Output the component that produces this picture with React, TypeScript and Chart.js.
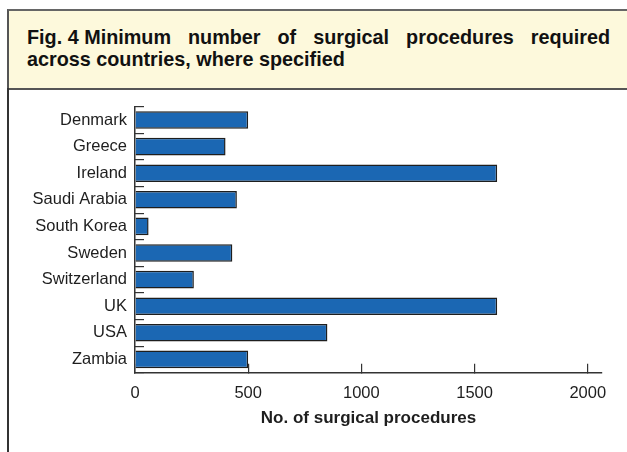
import React, { useEffect, useRef } from "react";
import { Chart, registerables } from "chart.js";

Chart.register(...registerables);

const countries = [
  "Denmark",
  "Greece",
  "Ireland",
  "Saudi Arabia",
  "South Korea",
  "Sweden",
  "Switzerland",
  "UK",
  "USA",
  "Zambia",
];
const minProcedures = [500, 400, 1600, 450, 60, 430, 260, 1600, 850, 500];
const xTicks = [0, 500, 1000, 1500, 2000];
const xMax = 2063;
const titleLead = "Fig. 4 Minimum";
const titleRest = "number of surgical procedures required";
const titleLine2 = "across countries, where specified";
const xTitle = "No. of surgical procedures";

const FONT = "'Liberation Sans', Arial, Helvetica, sans-serif";

export default function App() {
  const canvasRef = useRef<HTMLCanvasElement | null>(null);

  useEffect(() => {
    const canvas = canvasRef.current;
    if (!canvas) return;
    const chart = new Chart(canvas, {
      type: "bar",
      data: {
        labels: countries,
        datasets: [
          {
            data: minProcedures,
            backgroundColor: "#1b67b3",
            borderColor: "#1e1e1e",
            borderWidth: 1.5,
            barPercentage: 0.66,
            categoryPercentage: 1,
          },
        ],
      },
      options: {
        indexAxis: "y",
        responsive: false,
        animation: false,
        devicePixelRatio: 1,
        layout: { padding: { top: 106.7, right: 25, left: 0, bottom: 0 } },
        plugins: {
          legend: { display: false },
          tooltip: { enabled: false },
        },
        scales: {
          x: {
            type: "linear",
            min: 0,
            max: xMax,
            afterBuildTicks: (s: any) => {
              s.ticks = xTicks.map((v) => ({ value: v }));
            },
            afterFit: (s: any) => {
              s.height = 452 - 372.7;
            },
            grid: {
              drawOnChartArea: false,
              drawTicks: true,
              tickLength: -9,
              color: "#333",
              lineWidth: 1.2,
            },
            border: { color: "#333", width: 1.5 },
            ticks: {
              padding: 19.5,
              color: "#1e1e1e",
              font: { family: FONT, size: 16.5 },
              callback: (v: any) => String(v),
            },
            title: {
              display: true,
              text: xTitle,
              color: "#1e1e1e",
              font: { family: FONT, size: 17, weight: "bold" },
              padding: { top: 0, bottom: 23 },
            },
          },
          y: {
            afterFit: (s: any) => {
              s.width = 135;
            },
            grid: {
              drawOnChartArea: false,
              drawTicks: true,
              tickLength: -9,
              offset: true,
              color: "#333",
              lineWidth: 1.2,
            },
            border: { color: "#333", width: 1.5 },
            ticks: {
              padding: 17,
              color: "#1e1e1e",
              font: { family: FONT, size: 16.5 },
            },
          },
        },
      },
    } as any);
    return () => chart.destroy();
  }, []);

  return (
    <div
      style={{
        position: "absolute",
        left: 0,
        top: 0,
        width: 627,
        height: 452,
        overflow: "hidden",
        background: "#fff",
      }}
    >
      <div
        style={{
          position: "absolute",
          left: 7,
          top: 9,
          width: 660,
          height: 81,
          boxSizing: "border-box",
          background: "#fdf9dc",
          borderTop: "2px solid #666",
          borderLeft: "2px solid #555",
          borderBottom: "2px solid #555",
        }}
      />
      <div
        style={{
          position: "absolute",
          left: 7,
          top: 88,
          width: 1.6,
          height: 364,
          background: "#333",
        }}
      />
      <div
        style={{
          position: "absolute",
          left: 27,
          top: 25.6,
          width: 583,
          fontFamily: FONT,
          fontWeight: "bold",
          fontSize: "19.8px",
          lineHeight: "22px",
          color: "#111",
        }}
      >
        <div style={{ textAlign: "justify", textAlignLast: "justify", whiteSpace: "nowrap" }}>
          <span style={{ display: "inline-block" }}>{titleLead}</span> {titleRest}
        </div>
        <div style={{ textAlign: "left" }}>{titleLine2}</div>
      </div>
      <canvas
        ref={canvasRef}
        width={627}
        height={452}
        style={{ position: "absolute", left: 0, top: 0, width: 627, height: 452 }}
      />
    </div>
  );
}
